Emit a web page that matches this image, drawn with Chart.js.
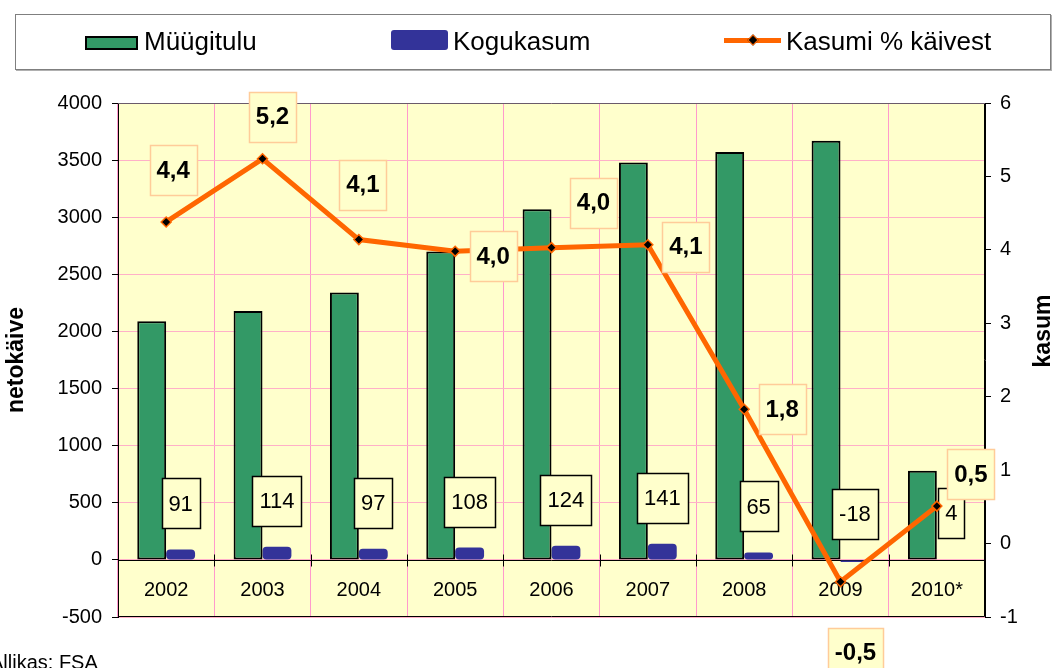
<!DOCTYPE html>
<html>
<head>
<meta charset="utf-8">
<script src="https://cdn.jsdelivr.net/npm/chart.js@4/dist/chart.umd.min.js"></script>
<style>
body { margin: 0; background: #fff; }
#wrap { position: relative; width: 1056px; height: 668px; overflow: hidden; }
#legend { position: absolute; left: 15px; top: 14px; width: 1034px; height: 54px; border: 1px solid #7f7f7f; box-shadow: 1px 1px 0 #b0b0b0; font-family: "Liberation Sans", Arial, sans-serif; font-size: 26px; line-height: 26px; color: #000; }
#legend .t { position: absolute; top: 13px; white-space: nowrap; }
#legend .sw { position: absolute; box-sizing: border-box; }
</style>
</head>
<body>
<div id="wrap">
  <canvas id="c" width="1056" height="668"></canvas>
  <div id="legend">
    <div class="sw" style="left:69px;top:21px;width:53px;height:14px;background:#339966;border:2px solid #000;"></div>
    <div class="t" style="left:128px;">Müügitulu</div>
    <div class="sw" style="left:375px;top:15px;width:57px;height:20px;background:#333399;border-radius:3px;"></div>
    <div class="t" style="left:437px;">Kogukasum</div>
    <div class="sw" style="left:708px;top:23px;width:57px;height:5px;background:#ff6600;"></div>
    <div class="sw" style="left:733px;top:21px;width:8px;height:8px;background:#000;border:1px solid #ff6600;transform:rotate(45deg);"></div>
    <div class="t" style="left:770px;">Kasumi % käivest</div>
  </div>
</div>
<script>
// andmed
const aastad = ['2002', '2003', '2004', '2005', '2006', '2007', '2008', '2009', '2010*'];
const myygitulu = [2090, 2180, 2340, 2700, 3070, 3480, 3570, 3670, 780];
const kogukasum = [91, 114, 97, 108, 124, 141, 65, -18, 4];
const kasumiProtsent = [4.38, 5.24, 4.14, 3.98, 4.03, 4.07, 1.83, -0.52, 0.51];

// % siltide nihe punktist (px), nagu originaalis käsitsi paigutatud
const siltNihe = [[7, -52], [10, -42], [4, -55], [38, 5], [42, -45], [38, 2], [38, 0], [15, 71], [34, -32]];

const FONT = '"Liberation Sans", Arial, sans-serif';

function kast(ctx, tekst, cx, cy, font, joon, padX, h) {
    ctx.font = font;
    const w = Math.round(ctx.measureText(tekst).width + padX * 2);
    const l = Math.round(cx - w / 2) + 0.5;
    const t = Math.round(cy - h / 2) + 0.5;
    ctx.fillStyle = '#ffffcc';
    ctx.fillRect(l, t, w, h);
    ctx.strokeStyle = joon;
    ctx.lineWidth = 1.5;
    ctx.strokeRect(l, t, w, h);
    ctx.fillStyle = '#000';
    ctx.textAlign = 'center';
    ctx.textBaseline = 'middle';
    ctx.fillText(tekst, cx, cy + 1);
}

const kujundus = {
    id: 'kujundus',
    beforeDraw(chart) {
        const {ctx, chartArea: a} = chart;
        ctx.save();
        ctx.fillStyle = '#ffffcc';
        ctx.fillRect(a.left, a.top, a.right - a.left, a.bottom - a.top);
        ctx.restore();
    },
    beforeDatasetsDraw(chart) {
        const {ctx, chartArea: a, scales} = chart;
        const x = scales.x, y = scales.y;
        const y0 = Math.round(y.getPixelForValue(0)) + 0.5;
        ctx.save();
        // raam
        ctx.lineWidth = 1;
        ctx.strokeStyle = '#000';
        ctx.beginPath();
        ctx.moveTo(a.left + 0.5, a.top);
        ctx.lineTo(a.left + 0.5, a.bottom - 0.5);
        ctx.lineTo(a.right - 0.5, a.bottom - 0.5);
        ctx.lineTo(a.right - 0.5, a.top);
        ctx.stroke();
        ctx.strokeStyle = '#6a5a6a';
        ctx.beginPath();
        ctx.moveTo(a.left, a.top + 0.5);
        ctx.lineTo(a.right, a.top + 0.5);
        ctx.stroke();
        // nulljoon koos kriipsudega
        ctx.strokeStyle = '#000';
        ctx.beginPath();
        ctx.moveTo(a.left, y0);
        ctx.lineTo(a.right, y0);
        const w = (a.right - a.left) / aastad.length;
        for (let i = 1; i < aastad.length; i++) {
            const xx = Math.round(x.getPixelForValue(i) - w / 2) + 0.5;
            ctx.moveTo(xx, y0 - 6);
            ctx.lineTo(xx, y0 + 6);
        }
        ctx.stroke();
        // aastad graafiku sees
        ctx.fillStyle = '#000';
        ctx.font = '20px ' + FONT;
        ctx.textAlign = 'center';
        ctx.textBaseline = 'middle';
        const ly = y.getPixelForValue(-250);
        aastad.forEach((t, i) => ctx.fillText(t, x.getPixelForValue(i), ly + 2));
        ctx.restore();
    },
    afterDatasetDraw(chart, args) {
        // kasumi sildid peale mõlemat tulpa, aga joone alla
        if (args.index !== 0) return;
        const {ctx, scales} = chart;
        const meta = chart.getDatasetMeta(1);
        const y0 = scales.y.getPixelForValue(0);
        ctx.save();
        meta.data.forEach((el, i) => {
            const v = kogukasum[i];
            const yTop = scales.y.getPixelForValue(Math.max(v, 0));
            const cy = Math.min(yTop - 46, y0 - 28);
            kast(ctx, String(v), el.x, cy, '22px ' + FONT, '#000', 7, 50);
        });
        ctx.restore();
    },
    afterDatasetsDraw(chart) {
        const {ctx} = chart;
        const meta = chart.getDatasetMeta(2);
        ctx.save();
        meta.data.forEach((pt, i) => {
            const t = kasumiProtsent[i].toFixed(1).replace('.', ',');
            kast(ctx, t, pt.x + siltNihe[i][0], pt.y + siltNihe[i][1], 'bold 24px ' + FONT, '#ffcc99', 7, 50);
        });
        ctx.restore();
    },
    afterDraw(chart) {
        const {ctx, chartArea: a} = chart;
        ctx.save();
        ctx.fillStyle = '#000';
        ctx.font = 'bold 23px ' + FONT;
        ctx.textAlign = 'center';
        ctx.textBaseline = 'middle';
        ctx.translate(17, (a.top + a.bottom) / 2);
        ctx.rotate(-Math.PI / 2);
        ctx.fillText('netokäive', 0, 0);
        ctx.restore();

        ctx.save();
        ctx.fillStyle = '#000';
        ctx.font = 'bold 23px ' + FONT;
        ctx.textAlign = 'center';
        ctx.textBaseline = 'middle';
        ctx.translate(1044, 331);
        ctx.rotate(-Math.PI / 2);
        ctx.fillText('kasum', 0, 0);
        ctx.restore();

        ctx.save();
        ctx.fillStyle = '#000';
        ctx.font = '20px ' + FONT;
        ctx.textAlign = 'left';
        ctx.textBaseline = 'alphabetic';
        ctx.fillText('Allikas: FSA', -10, 669);
        ctx.restore();
    }
};

const andmed = {
    labels: aastad,
    datasets: [
        {
            type: 'bar',
            label: 'Müügitulu',
            data: myygitulu,
            backgroundColor: '#339966',
            borderColor: '#000',
            borderWidth: 2,
            borderSkipped: false,
            barPercentage: 1,
            categoryPercentage: 0.6,
            yAxisID: 'y',
            order: 2
        }, {
            type: 'bar',
            label: 'Kogukasum',
            data: kogukasum,
            backgroundColor: '#333399',
            borderWidth: 0,
            borderRadius: 4,
            borderSkipped: false,
            barPercentage: 1,
            categoryPercentage: 0.6,
            yAxisID: 'y',
            order: 2
        }, {
            type: 'line',
            label: 'Kasumi % käivest',
            data: kasumiProtsent,
            borderColor: '#ff6600',
            borderWidth: 5,
            borderJoinStyle: 'miter',
            pointStyle: 'rectRot',
            pointRadius: 5,
            pointBackgroundColor: '#000',
            pointBorderColor: '#ff6600',
            pointBorderWidth: 1.5,
            tension: 0,
            clip: false,
            yAxisID: 'y1',
            order: 1
        }
    ]
};

const seaded = {
    type: 'bar',
    data: andmed,
    plugins: [kujundus],
    options: {
        responsive: false,
        devicePixelRatio: 1,
        animation: false,
        layout: { padding: { top: 103, bottom: 51, left: 0, right: 0 } },
        plugins: {
            legend: { display: false },
            tooltip: { enabled: false }
        },
        scales: {
            x: {
                offset: true,
                grid: { color: '#ff99cc', offset: true, drawTicks: false },
                border: { display: false },
                ticks: { display: false },
                afterFit(s) { s.height = 0; }
            },
            y: {
                position: 'left',
                min: -500,
                max: 4000,
                ticks: { stepSize: 500, color: '#000', font: { size: 20, family: FONT }, padding: 10,
                    callback: v => String(v) },
                grid: { color: '#ffb0c8', tickColor: '#000', tickLength: 6 },
                border: { display: true, color: '#000' },
                afterFit(s) { s.width = 118; }
            },
            y1: {
                position: 'right',
                min: -1,
                max: 6,
                ticks: { stepSize: 1, color: '#000', font: { size: 20, family: FONT }, padding: 9,
                    callback: v => String(v) },
                grid: { drawOnChartArea: false, tickColor: '#000', tickLength: 6 },
                border: { display: true, color: '#000' },
                afterFit(s) { s.width = 71; }
            }
        }
    }
};

const graafik = new Chart(document.getElementById('c'), seaded);
</script>
</body>
</html>
